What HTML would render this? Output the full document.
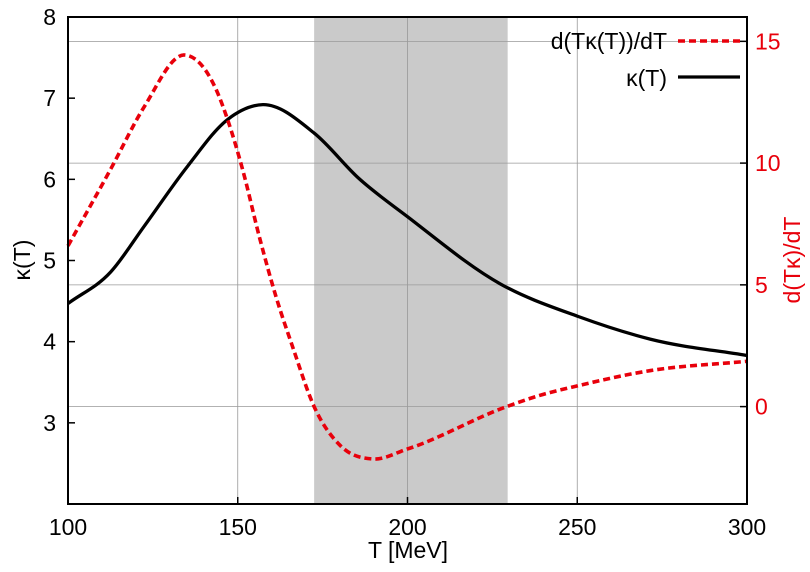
<!DOCTYPE html>
<html><head><meta charset="utf-8"><style>
html,body{margin:0;padding:0;background:#fff;}
svg{display:block;font-family:"Liberation Sans",Arial,sans-serif;}
</style></head><body>
<svg id="chart" width="810" height="572" viewBox="0 0 810 572"></svg>
<script>
const xTicks=[100,150,200,250,300];
const yLeftTicks=[3,4,5,6,7,8];
const yRightTicks=[0,5,10,15];
const shadeRange=[172.5,229.5];
const kappaT=[100,112.6,122.4,135.2,147.1,157.4,172.5,185.7,200,227.4,250.3,271.6,300];
const kappaV=[4.47,4.86,5.42,6.16,6.74,6.92,6.57,6.01,5.54,4.71,4.31,4.03,3.83];
const derivT=[100,112.6,122.4,134.3,143.7,147.1,151.5,156.4,161.3,166.2,172.5,180.2,189.7,200,229.2,238.7,250.3,271.6,300];
const derivV=[6.6,9.76,12.3,14.44,13.0,11.75,9.7,6.95,4.5,2.44,0,-1.6,-2.15,-1.74,0,0.45,0.86,1.48,1.86];

const L=68,R=747,T=17,B=504;
const xs=v=>L+(v-100)/200*(R-L);
const yl=v=>B-(v-2)/6*(B-T);
const yr=v=>B-(v+4)/20*(B-T);
const NS="http://www.w3.org/2000/svg";
const svg=document.getElementById('chart');
function mk(tag,attrs,parent){const e=document.createElementNS(NS,tag);for(const k in attrs)e.setAttribute(k,attrs[k]);(parent||svg).appendChild(e);return e;}
function smooth(pts){
  const n=pts.length,m=[];
  for(let i=0;i<n;i++){
    if(i===0)m.push((pts[1][1]-pts[0][1])/(pts[1][0]-pts[0][0]));
    else if(i===n-1)m.push((pts[n-1][1]-pts[n-2][1])/(pts[n-1][0]-pts[n-2][0]));
    else{const a=(pts[i][1]-pts[i-1][1])/(pts[i][0]-pts[i-1][0]),b=(pts[i+1][1]-pts[i][1])/(pts[i+1][0]-pts[i][0]);
      const h0=pts[i][0]-pts[i-1][0],h1=pts[i+1][0]-pts[i][0];
      m.push((a*h1+b*h0)/(h0+h1));}
  }
  let d=`M${pts[0][0]},${pts[0][1]}`;
  for(let i=0;i<n-1;i++){const h=pts[i+1][0]-pts[i][0];
    d+=` C${pts[i][0]+h/3},${pts[i][1]+m[i]*h/3} ${pts[i+1][0]-h/3},${pts[i+1][1]-m[i+1]*h/3} ${pts[i+1][0]},${pts[i+1][1]}`;}
  return d;}

let r=mk('rect',{x:xs(shadeRange[0]),y:T,width:xs(shadeRange[1])-xs(shadeRange[0]),height:B-T,fill:'#cacaca'});


xTicks.slice(1,-1).forEach(v=>{const g=mk('line',{x1:xs(v),x2:xs(v),y1:T,y2:B,stroke:'#999','stroke-width':0.8});

});
yRightTicks.forEach(v=>{const g=mk('line',{x1:L,x2:R,y1:yr(v),y2:yr(v),stroke:'#999','stroke-width':0.8});

});

let p1=mk('path',{d:smooth(kappaT.map((t,i)=>[xs(t),yl(kappaV[i])])),fill:'none',stroke:'#000','stroke-width':3.3});


let p2=mk('path',{d:smooth(derivT.map((t,i)=>[xs(t),yr(derivV[i])])),fill:'none',stroke:'#e8000b','stroke-width':3.6,'stroke-dasharray':'7,4'});



let fr=mk('rect',{x:L,y:T,width:R-L,height:B-T,fill:'none',stroke:'#000','stroke-width':2});



xTicks.forEach(v=>{mk('line',{x1:xs(v),x2:xs(v),y1:B,y2:B-7,stroke:'#000','stroke-width':1.5});
const t=mk('text',{x:xs(v),y:B+31,'text-anchor':'middle','font-size':23,fill:'#000'});t.textContent=v;

});
yLeftTicks.forEach(v=>{if(v<8)mk('line',{x1:L,x2:L+7,y1:yl(v),y2:yl(v),stroke:'#000','stroke-width':1.5});
const t=mk('text',{x:L-12,y:yl(v)+8,'text-anchor':'end','font-size':23,fill:'#000'});t.textContent=v;

});
yRightTicks.forEach(v=>{mk('line',{x1:R,x2:R-7,y1:yr(v),y2:yr(v),stroke:'#000','stroke-width':1.5});
const t=mk('text',{x:R+8,y:yr(v)+8,'text-anchor':'start','font-size':23,fill:'#e8000b'});t.textContent=v;

});

let xt=mk('text',{x:408,y:558,'text-anchor':'middle','font-size':23,fill:'#000'});xt.textContent='T [MeV]';


let ylt=mk('text',{x:0,y:0,'text-anchor':'middle','font-size':23,fill:'#000',transform:'translate(30,260) rotate(-90)'});ylt.textContent='κ(T)';


let yrt=mk('text',{x:0,y:0,'text-anchor':'middle','font-size':23,fill:'#e8000b',transform:'translate(800,260) rotate(-90)'});yrt.textContent='d(Tκ)/dT';



let l1=mk('text',{x:667,y:49,'text-anchor':'end','font-size':23,fill:'#000'});l1.textContent='d(Tκ(T))/dT';


let ls1=mk('line',{x1:678,x2:740,y1:41,y2:41,stroke:'#e8000b','stroke-width':3.6,'stroke-dasharray':'7,4'});


let l2=mk('text',{x:667,y:86,'text-anchor':'end','font-size':23,fill:'#000'});l2.textContent='κ(T)';


let ls2=mk('line',{x1:678,x2:740,y1:77,y2:77,stroke:'#000','stroke-width':3.3});


</script>
</body></html>
